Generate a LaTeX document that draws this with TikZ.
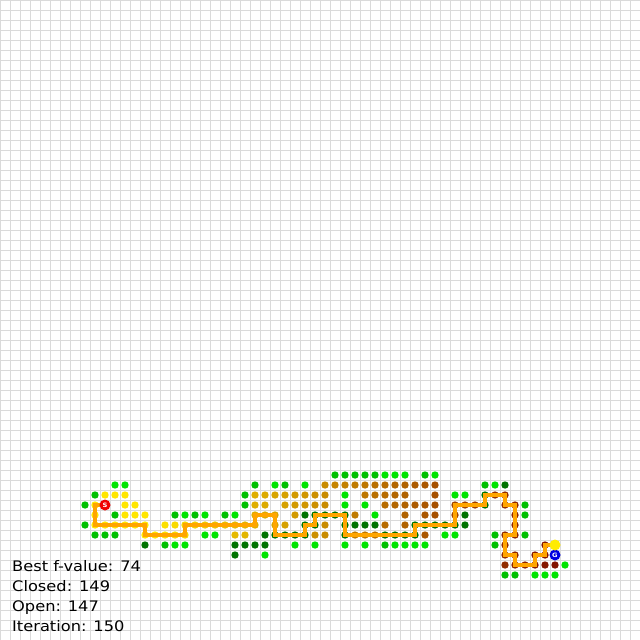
\documentclass[tikz,border=0pt]{standalone}
\usepackage{fontspec}
\newfontfamily\hudfont[FakeStretch=1.12]{DejaVu Sans}
\definecolor{gridc}{RGB}{218,218,218}
\definecolor{cyel}{RGB}{255,230,0}
\definecolor{cmar}{RGB}{130,20,0}
\definecolor{ga}{RGB}{0,228,0}
\definecolor{gb}{RGB}{0,192,0}
\definecolor{gc}{RGB}{0,115,0}
\definecolor{pathc}{RGB}{255,165,0}
\definecolor{startc}{RGB}{240,0,0}
\definecolor{goalc}{RGB}{0,0,225}
\definecolor{curc}{RGB}{255,235,0}
\tikzset{
  gridline/.style={draw=gridc, line width=1pt},
  route/.style={draw=pathc, line width=4.5pt},
  bigdot/.style={circle, inner sep=0pt, minimum size=11pt, text=white, font=\hudfont\fontsize{6}{6}\selectfont\bfseries},
  hud/.style={anchor=base west, inner sep=0pt, font=\hudfont\fontsize{14.5}{17}\selectfont, text=black}
}
\begin{document}
\begin{tikzpicture}[x=10pt,y=-10pt]
\fill[white] (0,0) rectangle (64,64);
\useasboundingbox (0,0) rectangle (64,64);
% grid
\foreach \i in {0,...,64} {
  \draw[gridline] (\i,0) -- (\i,64);
  \draw[gridline] (0,\i) -- (64,\i);
}
% open nodes, bright green
\foreach \c/\r in {38/47,39/47,40/47,43/47,
  11/48,12/48,27/48,30/48,49/48,
  34/49,45/49,46/49,
  34/50,36/50,
  18/51,20/51,23/51,37/51,
  20/53,21/53,44/53,45/53,
  17/54,18/54,29/54,31/54,34/54,36/54,39/54,40/54,41/54,42/54,
  26/55,56/56,53/57,54/57,55/57}
  \fill[ga] (\c+0.5,\r+0.5) circle[radius=3.7pt];
% open nodes, medium green
\foreach \c/\r in {33/47,34/47,35/47,36/47,37/47,42/47,
  25/48,28/48,48/48,
  9/49,24/49,
  8/50,24/50,52/50,
  11/51,17/51,19/51,22/51,52/51,
  8/52,
  9/53,10/53,11/53,49/53,52/53,
  16/54,38/54,49/54,
  50/57,51/57}
  \fill[gb] (\c+0.5,\r+0.5) circle[radius=3.7pt];
% open nodes, dark green
\foreach \c/\r in {50/48,48/49,48/50,
  30/51,31/51,32/51,33/51,34/51,46/51,
  30/52,31/52,34/52,35/52,36/52,37/52,41/52,42/52,43/52,44/52,45/52,46/52,
  26/53,27/53,28/53,29/53,30/53,34/53,38/53,39/53,40/53,41/53,
  14/54,23/54,24/54,25/54,26/54,
  23/55}
  \fill[gc] (\c+0.5,\r+0.5) circle[radius=3.7pt];
% closed nodes, coloured from yellow to maroon
\foreach \c/\r in {32/48,33/48,34/48,35/48,36/48,37/48,38/48,39/48,40/48,41/48,42/48,43/48,
  10/49,11/49,12/49,25/49,26/49,27/49,28/49,29/49,30/49,31/49,32/49,36/49,37/49,38/49,39/49,40/49,43/49,49/49,50/49,
  9/50,12/50,13/50,25/50,26/50,28/50,29/50,30/50,31/50,32/50,38/50,39/50,40/50,41/50,42/50,43/50,45/50,46/50,47/50,50/50,51/50,
  9/51,12/51,13/51,14/51,25/51,26/51,27/51,29/51,35/51,40/51,42/51,43/51,45/51,51/51,
  9/52,10/52,11/52,12/52,13/52,14/52,16/52,17/52,18/52,19/52,20/52,21/52,22/52,23/52,24/52,25/52,27/52,28/52,32/52,38/52,40/52,51/52,
  14/53,15/53,16/53,17/53,18/53,23/53,24/53,31/53,32/53,35/53,36/53,37/53,42/53,50/53,51/53,
  50/54,54/54,
  50/55,51/55,53/55,54/55,
  50/56,51/56,52/56,53/56,54/56,55/56}
{
  \pgfmathtruncatemacro\p{max(0,min(100,(\c*10+5-150)/4))}
  \fill[cmar!\p!cyel] (\c+0.5,\r+0.5) circle[radius=3.7pt];
}
% route from start to current node
\coordinate (startpt) at (10.5,50.5);
\coordinate (curpt) at (55.5,54.5);
\coordinate (goalpt) at (55.5,55.5);
\draw[route] (startpt)
  -- ++(-1,0) -- ++(0,2) -- ++(5,0) -- ++(0,1) -- ++(4,0) -- ++(0,-1)
  -- ++(7,0) -- ++(0,-1) -- ++(2,0) -- ++(0,2) -- ++(3,0) -- ++(0,-1)
  -- ++(1,0) -- ++(0,-1) -- ++(3,0) -- ++(0,2) -- ++(7,0) -- ++(0,-1)
  -- ++(4,0) -- ++(0,-2) -- ++(3,0) -- ++(0,-1) -- ++(2,0) -- ++(0,1)
  -- ++(1,0) -- ++(0,3) -- ++(-1,0) -- ++(0,2) -- ++(1,0) -- ++(0,1)
  -- ++(2,0) -- ++(0,-1) -- ++(1,0) -- ++(0,-1) -- (curpt);
% start, goal, current
\node[bigdot, fill=startc] (start) at (startpt) {S};
\node[bigdot, fill=goalc] (goal) at (goalpt) {G};
\node[bigdot, fill=curc] (current) at (curpt) {};
% status text
\node[hud] (best) at (1.2,57.1) {Best f-value: 74};
\node[hud] (closed) at (1.2,59.1) {Closed: 149};
\node[hud] (open) at (1.2,61.1) {Open: 147};
\node[hud] (iter) at (1.2,63.1) {Iteration: 150};
\end{tikzpicture}
\end{document}
